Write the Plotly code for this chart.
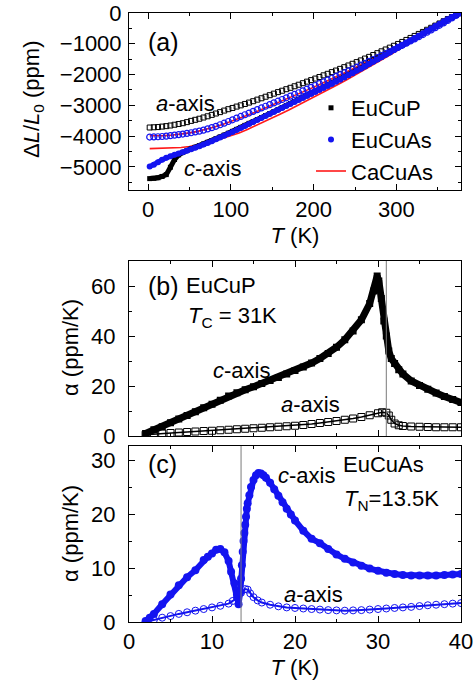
import plotly.graph_objects as go

# ---------------- Panel (a): thermal expansion dL/L0 (ppm) vs T (K) ----------------
T_a = [2, 7, 12, 17, 22, 27, 32, 37, 42, 47, 52, 57, 62, 67, 72, 77, 82, 87, 92, 97,
       102, 107, 112, 117, 122, 127, 132, 137, 142, 147, 152, 157, 162, 167, 172, 177,
       182, 187, 192, 197, 202, 207, 212, 217, 222, 227, 232, 237, 242, 247, 252, 257,
       262, 267, 272, 277, 282, 287, 292, 297, 302, 307, 312, 317, 322, 327, 332, 337,
       342, 347, 352, 357, 362, 367, 372, 377]

dl_EuCuP_a = [-3720, -3712, -3705, -3690, -3675, -3655, -3630, -3605, -3580, -3545,
              -3505, -3470, -3435, -3395, -3355, -3310, -3265, -3220, -3170, -3125,
              -3085, -3040, -3000, -2955, -2910, -2865, -2815, -2770, -2720, -2670,
              -2620, -2570, -2525, -2475, -2430, -2380, -2330, -2280, -2230, -2180,
              -2130, -2080, -2025, -1975, -1920, -1870, -1815, -1760, -1705, -1650,
              -1595, -1540, -1480, -1425, -1365, -1305, -1245, -1185, -1125, -1065,
              -1005, -940, -875, -810, -745, -680, -615, -545, -480, -410,
              -340, -270, -200, -135, -65, 0]

dl_EuCuP_c = [-5380, -5372, -5352, -5310, -5250, -5010, -4760, -4610, -4525, -4465,
              -4410, -4360, -4310, -4255, -4200, -4145, -4085, -4025, -3965, -3905,
              -3845, -3780, -3715, -3650, -3585, -3525, -3460, -3395, -3330, -3265,
              -3200, -3135, -3070, -3005, -2940, -2875, -2810, -2745, -2680, -2615,
              -2550, -2485, -2420, -2355, -2285, -2215, -2150, -2080, -2010, -1940,
              -1865, -1795, -1720, -1645, -1570, -1495, -1420, -1345, -1265, -1190,
              -1110, -1035, -955, -880, -800, -725, -650, -570, -495, -420,
              -345, -265, -195, -125, -60, 0]

dl_EuCuAs_a = [-4030, -4027, -4020, -4012, -4000, -3985, -3968, -3950, -3932, -3912,
               -3890, -3865, -3838, -3805, -3765, -3725, -3680, -3630, -3580, -3525,
               -3470, -3415, -3360, -3305, -3250, -3195, -3140, -3085, -3030, -2975,
               -2920, -2865, -2810, -2755, -2700, -2645, -2590, -2530, -2475, -2415,
               -2355, -2295, -2240, -2180, -2120, -2060, -2000, -1940, -1880, -1820,
               -1760, -1695, -1635, -1570, -1510, -1445, -1380, -1315, -1250, -1185,
               -1115, -1050, -980, -910, -840, -770, -700, -625, -550, -475,
               -400, -320, -240, -160, -80, 0]

dl_EuCuAs_c = [-4990, -4930, -4845, -4765, -4700, -4650, -4605, -4565, -4522, -4478,
               -4430, -4380, -4330, -4275, -4220, -4165, -4105, -4045, -3985, -3925,
               -3865, -3800, -3735, -3670, -3605, -3545, -3480, -3415, -3350, -3285,
               -3220, -3155, -3090, -3025, -2960, -2895, -2830, -2765, -2700, -2635,
               -2570, -2505, -2440, -2370, -2305, -2235, -2165, -2095, -2025, -1955,
               -1880, -1810, -1735, -1660, -1585, -1510, -1435, -1355, -1280, -1200,
               -1125, -1045, -970, -890, -815, -735, -660, -580, -505, -425,
               -350, -270, -200, -130, -60, 0]

T_CaCuAs = [2, 10, 20, 30, 40, 50, 60, 70, 80, 90, 100, 110, 120, 130, 140, 150, 160,
            170, 180, 190, 200, 210, 220, 230, 240, 250, 260, 270, 280, 290, 300, 310,
            320, 330, 340, 350, 360, 370, 377]
dl_CaCuAs_a = [-3990, -3990, -3985, -3965, -3935, -3895, -3845, -3780, -3705, -3620,
               -3530, -3430, -3325, -3215, -3105, -2995, -2880, -2765, -2650, -2530,
               -2410, -2290, -2165, -2040, -1910, -1780, -1650, -1515, -1380, -1240,
               -1100, -960, -815, -670, -520, -370, -220, -80, 0]
dl_CaCuAs_c = [-4405, -4400, -4395, -4385, -4370, -4335, -4290, -4230, -4160, -4080,
               -3995, -3895, -3785, -3665, -3540, -3410, -3280, -3150, -3015, -2880,
               -2740, -2600, -2460, -2315, -2170, -2020, -1870, -1715, -1560, -1400,
               -1240, -1080, -915, -750, -585, -420, -255, -100, 0]

# ---------------- Panel (b): EuCuP linear expansion coefficient ----------------
TC = 31
T_b_c = [2, 3, 4, 5, 6, 7, 8, 9, 10, 11, 12, 13, 14, 15, 16, 17, 18, 19, 20, 21, 22, 23,
         24, 25, 26, 27, 28, 29, 29.5, 29.9, 30.1, 30.4, 30.7, 31, 31.3, 31.6, 32, 32.5,
         33, 34, 35, 36, 37, 38, 39, 40]
alpha_EuCuP_c = [1, 2.5, 3.7, 5.3, 6.8, 8.2, 9.7, 11.3, 12.7, 14.3, 16, 17.3, 18.5, 19.7,
                 21, 22.2, 23.4, 24.8, 26.2, 27.6, 29.2, 31, 33, 35.5, 38.5, 42, 46.5, 53,
                 58, 64, 62, 55, 46, 40, 34, 31, 29, 26.5, 24.8, 22, 20.2, 18.7, 17.2,
                 15.8, 14.6, 13.4]
T_b_a = [2, 3, 4, 5, 6, 7, 8, 9, 10, 11, 12, 13, 14, 15, 16, 17, 18, 19, 20, 21, 22, 23,
         24, 25, 26, 27, 28, 29, 30, 30.5, 31, 31.3, 31.6, 32, 32.5, 33, 34, 35, 36, 37,
         38, 39, 40]
alpha_EuCuP_a = [0.5, 0.8, 1.0, 1.2, 1.4, 1.6, 1.8, 2.0, 2.1, 2.3, 2.5, 2.7, 2.9, 3.1,
                 3.3, 3.5, 3.7, 3.9, 4.1, 4.4, 4.8, 5.2, 5.6, 6.0, 6.5, 7.0, 7.6, 8.3,
                 9.1, 9.5, 9.3, 8.2, 6.5, 5.0, 4.3, 4.0, 3.8, 3.7, 3.6, 3.5, 3.5, 3.5, 3.5]

# ---------------- Panel (c): EuCuAs linear expansion coefficient ----------------
TN = 13.5
T_c_c = [2, 2.5, 3, 4, 5, 6, 7, 8, 9, 9.5, 10, 10.5, 11, 11.5, 12, 12.3, 12.7, 13, 13.2,
         13.4, 13.5, 13.6, 13.7, 13.8, 13.9, 14.0, 14.1, 14.2, 14.3, 14.5, 14.7, 15, 15.3,
         15.6, 15.9, 16.2, 16.5, 17, 17.5, 18, 18.5, 19, 19.5, 20, 21, 22, 23, 24, 25,
         26, 27, 28, 29, 30, 31, 32, 33, 34, 35, 36, 37, 38, 39, 40]
alpha_EuCuAs_c = [0.2, 0.8, 1.5, 3.3, 5.1, 6.8, 8.3, 9.6, 11.5, 12.1, 12.7, 13.4, 13.5,
                  12.9, 11.3, 9.3, 7.2, 5.2, 3.3, 5.5, 8, 10.5, 13, 15, 16.5, 18, 19.5,
                  21, 22, 23.5, 25, 26.3, 27.2, 27.6, 27.5, 27.2, 26.7, 25.8, 24.6, 23.4,
                  22.2, 21, 19.9, 18.8, 16.9, 15.4, 14.6, 13.5, 12.5, 11.7, 11.0, 10.4,
                  9.9, 9.5, 9.1, 8.9, 8.7, 8.6, 8.6, 8.6, 8.6, 8.7, 8.8, 8.9]
T_c_a = [2, 3, 4, 5, 6, 7, 8, 9, 10, 11, 12, 12.5, 13, 13.5, 14, 14.3, 14.6, 15, 15.5,
         16, 17, 18, 19, 20, 21, 22, 23, 24, 25, 26, 27, 28, 29, 30, 31, 32, 33, 34, 35,
         36, 37, 38, 39, 40]
alpha_EuCuAs_a = [0, 0.4, 0.8, 1.1, 1.5, 1.8, 2.1, 2.4, 2.7, 3.0, 3.4, 3.9, 4.5, 5.4,
                  6.1, 6.0, 5.3, 4.6, 4.0, 3.6, 3.2, 2.9, 2.7, 2.6, 2.5, 2.4, 2.3, 2.2,
                  2.15, 2.1, 2.15, 2.2, 2.3, 2.4, 2.5, 2.6, 2.7, 2.8, 2.95, 3.1, 3.2, 3.3,
                  3.4, 3.5]

BLACK = "#000000"
BLUE = "#1414f0"
RED = "#ff1a1a"
GRAY = "#7a7a7a"
FONT = "Arial, Liberation Sans, sans-serif"

fig = go.Figure()

# ---- panel (a)
fig.add_trace(go.Scatter(x=T_CaCuAs, y=dl_CaCuAs_a, mode="lines", line=dict(color=RED, width=1.6),
                         name="CaCuAs", legendrank=3, xaxis="x", yaxis="y"))
fig.add_trace(go.Scatter(x=T_CaCuAs, y=dl_CaCuAs_c, mode="lines", line=dict(color=RED, width=1.6),
                         showlegend=False, xaxis="x", yaxis="y"))
fig.add_trace(go.Scatter(x=T_a, y=dl_EuCuP_c, mode="lines", line=dict(color=BLACK, width=5),
                         showlegend=False, xaxis="x", yaxis="y"))
fig.add_trace(go.Scatter(x=T_a, y=dl_EuCuP_c, mode="markers",
                         marker=dict(symbol="square", size=5, color=BLACK),
                         name="EuCuP", legendrank=1, xaxis="x", yaxis="y"))
fig.add_trace(go.Scatter(x=T_a, y=dl_EuCuP_a, mode="markers",
                         marker=dict(symbol="square-open", size=5, color=BLACK, line=dict(width=1)),
                         showlegend=False, xaxis="x", yaxis="y"))
fig.add_trace(go.Scatter(x=T_a, y=dl_EuCuAs_a, mode="markers",
                         marker=dict(symbol="circle-open", size=6, color=BLUE, line=dict(width=1.2)),
                         showlegend=False, xaxis="x", yaxis="y"))
fig.add_trace(go.Scatter(x=T_a, y=dl_EuCuAs_c, mode="lines", line=dict(color=BLUE, width=5),
                         showlegend=False, xaxis="x", yaxis="y"))
fig.add_trace(go.Scatter(x=T_a, y=dl_EuCuAs_c, mode="markers",
                         marker=dict(symbol="circle", size=6, color=BLUE),
                         name="EuCuAs", legendrank=2, xaxis="x", yaxis="y"))

# ---- panel (b)
fig.add_trace(go.Scatter(x=T_b_a, y=alpha_EuCuP_a, mode="lines+markers",
                         line=dict(color=BLACK, width=1.5),
                         marker=dict(symbol="square-open", size=7, color=BLACK, line=dict(width=1)),
                         showlegend=False, xaxis="x2", yaxis="y2"))
fig.add_trace(go.Scatter(x=T_b_c, y=alpha_EuCuP_c, mode="lines+markers",
                         line=dict(color=BLACK, width=7),
                         marker=dict(symbol="square", size=7, color=BLACK),
                         showlegend=False, xaxis="x2", yaxis="y2"))

# ---- panel (c)
fig.add_trace(go.Scatter(x=T_c_a, y=alpha_EuCuAs_a, mode="lines+markers",
                         line=dict(color=BLUE, width=2),
                         marker=dict(symbol="circle-open", size=7, color=BLUE, line=dict(width=1)),
                         showlegend=False, xaxis="x3", yaxis="y3"))
fig.add_trace(go.Scatter(x=T_c_c, y=alpha_EuCuAs_c, mode="lines+markers",
                         line=dict(color=BLUE, width=6),
                         marker=dict(symbol="circle", size=8, color=BLUE),
                         showlegend=False, xaxis="x3", yaxis="y3"))

# transition temperature lines
fig.add_shape(type="line", xref="x2", yref="y2 domain", x0=TC, x1=TC, y0=0, y1=1,
              line=dict(color=GRAY, width=1))
fig.add_shape(type="line", xref="x3", yref="y3 domain", x0=TN, x1=TN, y0=0, y1=1,
              line=dict(color=GRAY, width=1))

# ---- layout geometry (pixels -> paper)
L, R, TOP, BOT = 129, 461, 13, 622
PW, PH = R - L, BOT - TOP


def px(x, y):
    return (x - L) / PW, (BOT - y) / PH


def ann(text, x, y, size=22, anchor="left", angle=0):
    xx, yy = px(x, y)
    fig.add_annotation(text=text, x=xx, y=yy, xref="paper", yref="paper",
                       xanchor=anchor, yanchor="middle", showarrow=False, textangle=angle,
                       font=dict(size=size, color="black", family=FONT))


ann("(a)", 146, 42, 25)
ann("<i>a</i>-axis", 154, 103)
ann("<i>c</i>-axis", 182, 168)
ann("(b)", 146, 286, 25)
ann("EuCuP", 184, 285)
ann("<i>T</i><sub>C</sub> = 31K", 186, 317)
ann("<i>c</i>-axis", 211, 370)
ann("<i>a</i>-axis", 279, 404)
ann("(c)", 146, 464, 25)
ann("<i>c</i>-axis", 276, 475)
ann("EuCuAs", 341, 464)
ann("<i>T</i><sub>N</sub>=13.5K", 342, 500)
ann("<i>a</i>-axis", 282, 594)
# y-axis titles
ann("Δ<i>L</i>/<i>L</i><sub>0</sub> (ppm)", 33, 100, 22, anchor="center", angle=-90)
ann("α (ppm/K)", 70, 348, 22, anchor="center", angle=-90)
ann("α (ppm/K)", 70, 534, 22, anchor="center", angle=-90)

axis_common = dict(showline=True, linecolor="black", linewidth=1, mirror="allticks",
                   ticks="inside", ticklen=6, tickwidth=1, tickcolor="black",
                   showgrid=False, zeroline=False,
                   tickfont=dict(size=22, color="black", family=FONT))


def dom(y_top, y_bot):
    return [(BOT - y_bot) / PH, (BOT - y_top) / PH]


fig.update_layout(
    width=476, height=681,
    margin=dict(l=L, r=476 - R, t=TOP, b=681 - BOT, autoexpand=False),
    paper_bgcolor="white", plot_bgcolor="white",
    font=dict(family=FONT, size=22, color="black"),
    showlegend=True,
    legend=dict(x=px(311, 0)[0], y=px(0, 87)[1], xanchor="left", yanchor="top",
                bgcolor="rgba(0,0,0,0)", font=dict(size=22, family=FONT),
                itemwidth=30, tracegroupgap=0),
    xaxis=dict(axis_common, domain=[0, 1], range=[-23, 378], anchor="y",
               dtick=100, tick0=0,
               minor=dict(dtick=50, ticklen=3, ticks="inside", tickcolor="black"),
               title=dict(text="<i>T</i> (K)", standoff=6, font=dict(size=22))),
    yaxis=dict(axis_common, domain=dom(13, 190), range=[-5750, 0], anchor="x",
               dtick=1000, minor=dict(dtick=500, ticklen=3, ticks="inside", tickcolor="black"),
               ticklabelstandoff=2),
    xaxis2=dict(axis_common, domain=[0, 1], range=[0, 40], anchor="y2", dtick=10,
                showticklabels=False,
                minor=dict(dtick=5, ticklen=3, ticks="inside", tickcolor="black")),
    yaxis2=dict(axis_common, domain=dom(261, 436), range=[0, 70], anchor="x2", dtick=20,
                minor=dict(dtick=10, ticklen=3, ticks="inside", tickcolor="black"),
                ticklabelstandoff=8),
    xaxis3=dict(axis_common, domain=[0, 1], range=[0, 40], anchor="y3", dtick=10,
                minor=dict(dtick=5, ticklen=3, ticks="inside", tickcolor="black"),
                title=dict(text="<i>T</i> (K)", standoff=6, font=dict(size=22))),
    yaxis3=dict(axis_common, domain=dom(446, 622), range=[0, 32.6], anchor="x3", dtick=10,
                minor=dict(dtick=5, ticklen=3, ticks="inside", tickcolor="black"),
                ticklabelstandoff=8),
)

fig.write_html("out.html", config={"displayModeBar": False},
               post_script="document.body.style.margin='0';")
